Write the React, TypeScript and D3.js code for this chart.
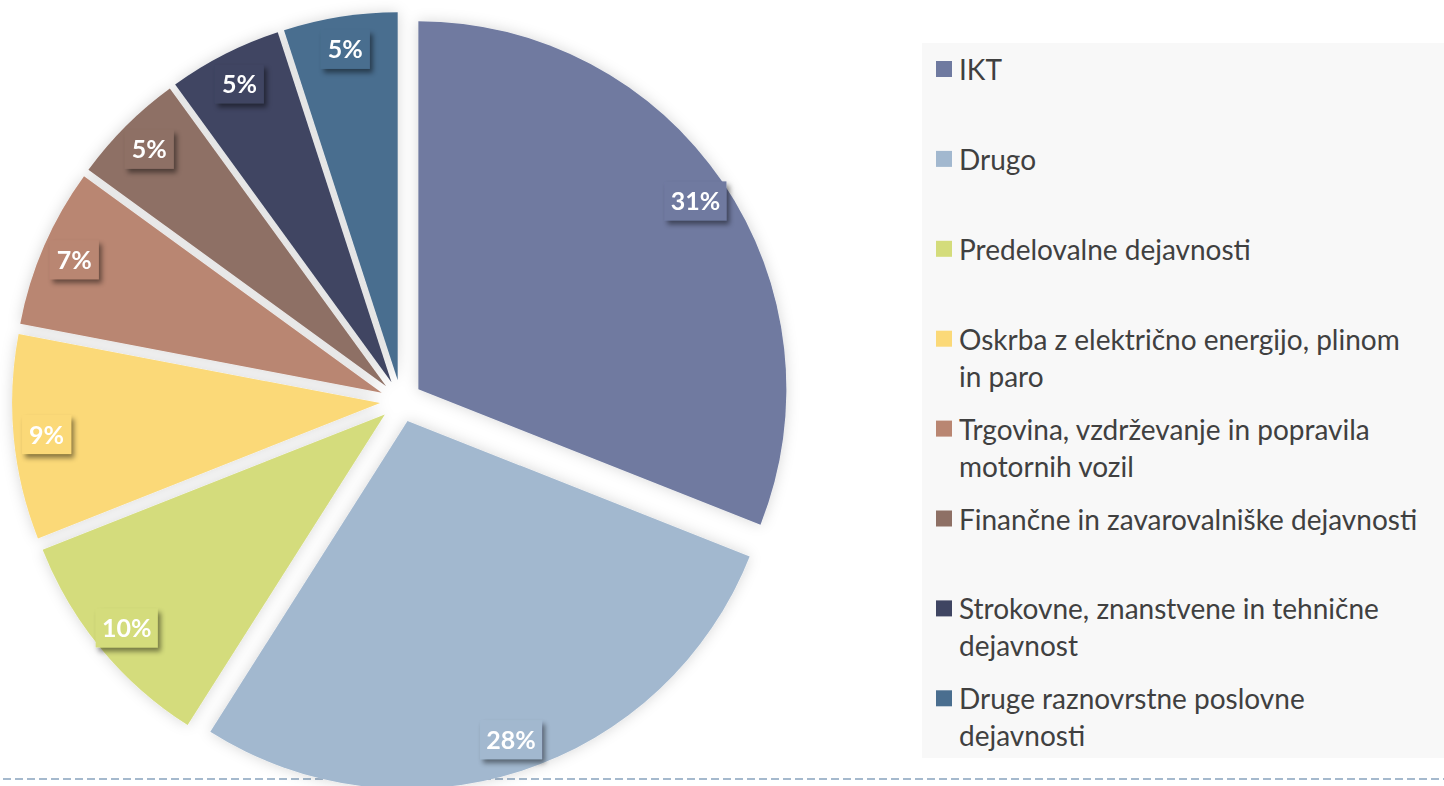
import React from "react";
import * as d3 from "d3";

const categories = [
  "IKT",
  "Drugo",
  "Predelovalne dejavnosti",
  "Oskrba z električno energijo, plinom in paro",
  "Trgovina, vzdrževanje in popravila motornih vozil",
  "Finančne in zavarovalniške dejavnosti",
  "Strokovne, znanstvene in tehnične dejavnost",
  "Druge raznovrstne poslovne dejavnosti",
];
const values = [31, 28, 10, 9, 7, 5, 5, 5];
const colors = ["#6f7aa0", "#a2b8cf", "#d4dc7b", "#fbd978", "#b98672", "#8e7065", "#3f4562", "#4a6e8f"];
const legendLines = [
  ["IKT"],
  ["Drugo"],
  ["Predelovalne dejavnosti"],
  ["Oskrba z električno energijo, plinom", "in paro"],
  ["Trgovina, vzdrževanje in popravila", "motornih vozil"],
  ["Finančne in zavarovalniške dejavnosti"],
  ["Strokovne, znanstvene in tehnične", "dejavnost"],
  ["Druge raznovrstne poslovne", "dejavnosti"],
];

const W = 1444;
const H = 786;
const CX = 401;
const CY = 401;
const R = 368;
const EXPLODE = 21;
const LABEL_R = 335;

export default function App() {
  const pie = d3.pie<number>().sort(null).value((d) => d);
  const arcs = pie(values);
  const arcGen = d3.arc<d3.PieArcDatum<number>>().innerRadius(0).outerRadius(R);

  const legendX = 922;
  const legendY = 43;
  const legendStep = 89.9;
  const firstBaseline = 80;

  return (
    <svg
      width={W}
      height={H}
      style={{ position: "absolute", left: 0, top: 0, display: "block", background: "#ffffff" }}
    >
      <defs>
        <filter id="glow" x="-20%" y="-20%" width="140%" height="140%">
          <feGaussianBlur in="SourceAlpha" stdDeviation="7" result="b" />
          <feFlood floodColor="#000000" floodOpacity="0.16" />
          <feComposite in2="b" operator="in" result="s" />
          <feMerge>
            <feMergeNode in="s" />
            <feMergeNode in="SourceGraphic" />
          </feMerge>
        </filter>
        <filter id="boxShadow" x="-30%" y="-30%" width="170%" height="180%">
          <feDropShadow dx="3" dy="4" stdDeviation="2.5" floodColor="#000000" floodOpacity="0.45" />
        </filter>
      </defs>

      {/* dashed baseline */}
      <line
        x1={3}
        x2={W}
        y1={779}
        y2={779}
        stroke="#a5b9cd"
        strokeWidth={2}
        strokeDasharray="8 4"
      />

      {/* legend panel */}
      <rect x={legendX} y={legendY} width={W - legendX} height={758 - legendY} fill="#f8f8f8" />
      {legendLines.map((lines, i) => {
        const base = firstBaseline + i * legendStep;
        return (
          <g key={categories[i]}>
            <rect x={936} y={base - 19} width={16} height={16} fill={colors[i]} />
            {lines.map((ln, j) => (
              <text
                key={j}
                x={959}
                y={base + j * 37}
                fontFamily="Lato, 'Open Sans', sans-serif"
                fontSize={28}
                fill="#404040"
              >
                {ln}
              </text>
            ))}
          </g>
        );
      })}

      {/* pie slices */}
      <g filter="url(#glow)">
        {arcs.map((a, i) => {
          const mid = (a.startAngle + a.endAngle) / 2;
          const ox = CX + Math.sin(mid) * EXPLODE;
          const oy = CY - Math.cos(mid) * EXPLODE;
          return (
            <path key={categories[i]} d={arcGen(a) || ""} transform={`translate(${ox},${oy})`} fill={colors[i]} />
          );
        })}
      </g>

      {/* labels */}
      {arcs.map((a, i) => {
        const mid = (a.startAngle + a.endAngle) / 2;
        const lx = CX + Math.sin(mid) * (EXPLODE + LABEL_R);
        const ly = CY - Math.cos(mid) * (EXPLODE + LABEL_R);
        const txt = `${values[i]}%`;
        const bw = 13 * txt.length + 23;
        const bh = 39;
        return (
          <g key={"l" + i}>
            <rect x={lx - bw / 2} y={ly - bh / 2} width={bw} height={bh} fill={colors[i]} filter="url(#boxShadow)" />
            <text
              x={lx}
              y={ly + 9}
              textAnchor="middle"
              fontFamily="Lato, 'Open Sans', sans-serif"
              fontWeight={700}
              fontSize={25}
              fill="#ffffff"
            >
              {txt}
            </text>
          </g>
        );
      })}
    </svg>
  );
}
